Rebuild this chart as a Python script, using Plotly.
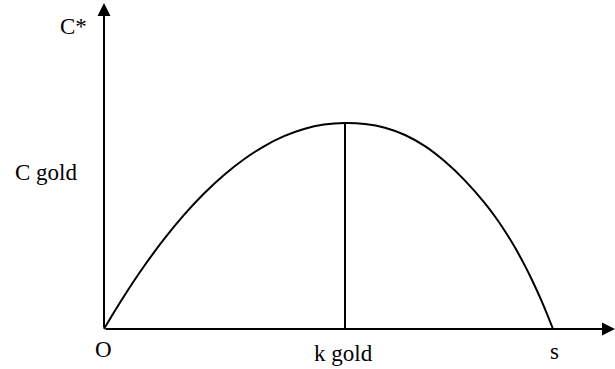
import plotly.graph_objects as go

# Curve data (k: capital per worker, c: steady-state consumption), arbitrary units
k_vals = [0, 10, 20, 40, 60, 80, 100, 120, 140, 160, 180, 200, 220, 241,
          261, 281, 301, 321, 341, 361, 381, 391, 401, 411, 421, 428, 438, 449]
c_vals = [0, 16.7, 32.8, 62.7, 89.8, 114.1, 135.5, 154.1, 169.8, 182.7, 192.8, 200, 204.4, 206,
          205.0, 201.3, 194, 182.8, 167.4, 148.4, 125.7, 112.5, 97.8, 81.4, 63.1, 49, 27.1, 0]

k_gold = 241
c_gold = 206
k_s = 449
x_axis_end = 511
y_axis_end = 326

labels = {
    "C*": (-31, 303),
    "C gold": (-58, 157),
    "O": (-1, -20),
    "k gold": (239, -24),
    "s": (450, -22),
}

fig = go.Figure()

fig.add_trace(go.Scatter(x=k_vals, y=c_vals, mode="lines",
                         line=dict(color="black", width=2, shape="spline", smoothing=0.8),
                         hoverinfo="skip", showlegend=False))
fig.add_trace(go.Scatter(x=[k_gold, k_gold], y=[0, c_gold], mode="lines",
                         line=dict(color="black", width=2),
                         hoverinfo="skip", showlegend=False))

# Axes with arrows
fig.add_annotation(x=x_axis_end, y=0, ax=0, ay=0, xref="x", yref="y", axref="x", ayref="y",
                   showarrow=True, arrowhead=2, arrowsize=1.3, arrowwidth=2, arrowcolor="black", text="")
fig.add_annotation(x=0, y=y_axis_end, ax=0, ay=0, xref="x", yref="y", axref="x", ayref="y",
                   showarrow=True, arrowhead=2, arrowsize=1.3, arrowwidth=2, arrowcolor="black", text="")

for txt, (lx, ly) in labels.items():
    fig.add_annotation(x=lx, y=ly, xref="x", yref="y", text=txt, showarrow=False,
                       font=dict(family="Liberation Serif, Times New Roman, serif", size=23, color="black"),
                       xanchor="center", yanchor="middle")

fig.update_layout(
    width=615, height=369,
    margin=dict(l=0, r=0, t=0, b=0),
    paper_bgcolor="white", plot_bgcolor="white",
    xaxis=dict(range=[-104, 511], visible=False, fixedrange=True),
    yaxis=dict(range=[-40, 329], visible=False, fixedrange=True),
)

fig.write_html("out.html", config={"displayModeBar": False},
               post_script="document.body.style.margin='0';document.body.style.overflow='hidden';")
